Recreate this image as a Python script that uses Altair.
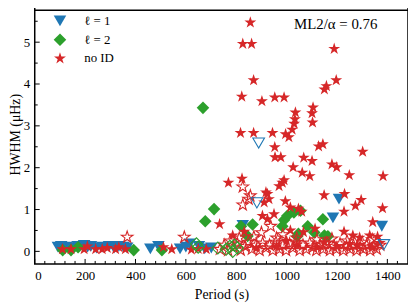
import altair as alt
import pandas as pd

# ---------------- data ----------------
cats = ["ℓ = 1", "ℓ = 2", "no ID"]
colors = ["#1f77b4", "#2ca02c", "#d62728"]
STAR = ("M0,-1L0.2245,-0.309L0.9511,-0.309L0.3633,0.118L0.5878,0.809L0,0.382"
        "L-0.5878,0.809L-0.3633,0.118L-0.9511,-0.309L-0.2245,-0.309Z")
shapes = ["triangle-down", "diamond", STAR]

l1_filled_period = [92, 105, 125, 144, 170, 196, 210, 223, 245, 268, 295, 315, 334, 352, 367,
                    459, 491, 577, 600, 616, 652, 675, 701, 826, 1184, 1208, 1378]
l1_filled_hwhm = [0.10, 0.12, 0.10, 0.08, 0.12, 0.14, 0.10, 0.12, 0.08, 0.10, 0.12, 0.08, 0.12, 0.10, 0.08,
                  0.06, 0.12, 0.06, 0.10, 0.18, 0.12, 0.06, 0.08, 0.62, 0.80, 1.25, 0.60]

l1_open_period = [882, 889, 1386]
l1_open_hwhm = [1.16, 2.59, 0.16]

l2_filled_period = [111, 144, 172, 393, 505, 668, 677, 712, 819, 845, 865, 983, 990, 1003, 1029,
                    1042, 1047, 1055, 1084, 1110, 1144, 1150, 1164]
l2_filled_hwhm = [0.03, 0.03, 0.10, 0.03, 0.03, 3.43, 0.72, 1.01, 0.60, 0.37, 0.64, 0.60, 0.75, 0.85, 0.93,
                  0.36, 0.42, 0.97, 0.60, 0.45, 0.77, 0.38, 0.36]

l2_open_period = [642, 649, 727, 760, 775, 786, 793, 805]
l2_open_hwhm = [0.18, 0.10, 0.08, 0.05, 0.12, 0.00, 0.15, 0.08]

noid_filled_period = [110, 144, 196, 209, 242, 268, 288, 321, 334, 360, 511, 544, 622, 649, 681,
                      734, 769, 786, 817, 822, 823, 826, 832, 856, 861, 869, 869, 880, 902, 904,
                      911, 918, 924, 924, 930, 944, 950, 953, 953, 954, 960, 970, 977, 983, 990,
                      990, 995, 996, 1000, 1009, 1015, 1015, 1022, 1026, 1030, 1033, 1035, 1040, 1047, 1060,
                      1062, 1067, 1068, 1092, 1101, 1101, 1103, 1105, 1113, 1120, 1127, 1144, 1149, 1150, 1150,
                      1158, 1180, 1189, 1197, 1199, 1200, 1228, 1228, 1230, 1249, 1250, 1263, 1273, 1280, 1290,
                      1296, 1302, 1330, 1340, 1342, 1361, 1370, 1381, 1383]
noid_filled_hwhm = [0.05, 0.05, 0.05, 0.12, 0.05, 0.05, 0.08, 0.05, 0.10, 0.05, 0.10, 0.05, 0.04, 0.06, 0.05,
                    0.65, 1.64, 0.38, 2.83, 3.70, 1.74, 4.96, 0.47, 5.47, 4.96, 4.09, 2.83, 0.08, 3.59, 0.85,
                    1.17, 1.41, 1.37, 0.77, 1.25, 2.83, 0.89, 3.68, 2.49, 2.25, 0.12, 1.56, 2.25, 1.64, 3.68,
                    1.70, 1.20, 2.80, 0.25, 2.73, 1.05, 0.50, 2.91, 2.01, 3.05, 3.16, 3.32, 0.15, 1.02, 0.95,
                    1.88, 0.46, 2.24, 1.80, 3.30, 2.16, 3.08, 3.44, 0.54, 0.10, 2.51, 2.56, 1.34, 3.87, 0.22,
                    3.95, 2.08, 4.84, 4.09, 2.01, 0.12, 0.95, 0.47, 1.37, 1.82, 0.18, 0.38, 1.09, 0.15, 0.33,
                    1.23, 2.38, 0.38, 0.10, 0.70, 0.35, 0.20, 1.03, 1.80]

noid_open_period = [367, 594, 826, 856, 826, 849,
                    735, 752, 768, 776, 790, 805, 812, 818, 835, 848, 862, 870, 878, 893,
                    900, 905, 918, 932, 937, 945, 958, 960, 972, 985, 985, 998, 1012, 1025, 1038,
                    1040, 1052, 1065, 1078, 1092, 1105, 1118, 1120, 1132, 1145, 1158, 1172, 1180, 1185, 1198,
                    1212, 1225, 1238, 1240, 1252, 1265, 1278, 1292, 1300, 1305, 1318, 1332, 1340, 1345, 1358, 1372]
noid_open_hwhm = [0.34, 0.34, 1.54, 1.33, 1.11, 1.25,
                  0.05, 0.15, 0.02, 0.25, 0.10, 0.18, 0.32, 0.03, 0.12, 0.22, 0.05, 0.35, 0.15, 0.02,
                  0.45, 0.20, 0.08, 0.15, 0.60, 0.02, 0.22, 0.32, 0.05, 0.40, 0.15, 0.02, 0.18, 0.08, 0.22,
                  0.32, 0.02, 0.15, 0.05, 0.20, 0.10, 0.02, 0.28, 0.15, 0.05, 0.20, 0.02, 0.30, 0.12, 0.05,
                  0.18, 0.02, 0.12, 0.25, 0.05, 0.15, 0.02, 0.10, 0.22, 0.05, 0.15, 0.02, 0.28, 0.12, 0.05, 0.15]

x_major = [0, 200, 400, 600, 800, 1000, 1200, 1400]
x_minor = [v for v in range(40, 1480, 40) if v % 200 != 0]
y_major = [0, 1, 2, 3, 4, 5]
y_minor = [0.5, 1.5, 2.5, 3.5, 4.5, 5.5]

annotation = "ML2/α = 0.76"

# ---------------- tables ----------------
filled = pd.concat([
    pd.DataFrame({"P": l1_filled_period, "H": l1_filled_hwhm, "cat": cats[0]}),
    pd.DataFrame({"P": l2_filled_period, "H": l2_filled_hwhm, "cat": cats[1]}),
    pd.DataFrame({"P": noid_filled_period, "H": noid_filled_hwhm, "cat": cats[2]}),
], ignore_index=True)
filled["order"] = range(len(filled))

FONT = "Liberation Serif"
W, H = 377, 262

xscale = alt.Scale(domain=[0, 1482], nice=False, zero=False)
yscale = alt.Scale(domain=[-0.3, 5.9], nice=False, zero=False)

xaxis = alt.Axis(values=x_major, ticks=False, domain=False, grid=False, labelFont=FONT,
                 labelFontSize=13, labelColor="black", labelPadding=6, title="Period (s)",
                 titleFont=FONT, titleFontSize=14, titleFontWeight="normal", titleColor="black",
                 titlePadding=5, format="d")
yaxis = alt.Axis(values=y_major, ticks=False, domain=False, grid=False, labelFont=FONT,
                 labelFontSize=13, labelColor="black", labelPadding=5, title="HWHM (μHz)",
                 titleFont=FONT, titleFontSize=14, titleFontWeight="normal", titleColor="black",
                 titlePadding=1, format="d")

legend = alt.Legend(orient="none", legendX=19, legendY=10, title=None, labelFont=FONT,
                    labelFontSize=13, labelColor="black", symbolSize=160, rowPadding=5,
                    labelOffset=18, padding=0, symbolStrokeWidth=0, symbolOpacity=1)

base_filled = alt.Chart(filled).mark_point(filled=True, size=160, opacity=1, strokeWidth=0).encode(
    x=alt.X("P:Q", scale=xscale, axis=xaxis),
    y=alt.Y("H:Q", scale=yscale, axis=yaxis),
    color=alt.Color("cat:N", scale=alt.Scale(domain=cats, range=colors), legend=legend),
    shape=alt.Shape("cat:N", scale=alt.Scale(domain=cats, range=shapes), legend=legend),
    order=alt.Order("order:Q"),
)


def open_layer(P, Hs, shape, color, size):
    df = pd.DataFrame({"P": P, "H": Hs})
    return alt.Chart(df).mark_point(shape=shape, filled=False, color=color, size=size,
                                    strokeWidth=1.1, opacity=1).encode(
        x=alt.X("P:Q", scale=xscale, axis=xaxis),
        y=alt.Y("H:Q", scale=yscale, axis=yaxis),
    )


open_red = open_layer(noid_open_period, noid_open_hwhm, STAR, colors[2], 150)
open_green = open_layer(l2_open_period, l2_open_hwhm, "diamond", colors[1], 150)
open_blue = open_layer(l1_open_period, l1_open_hwhm, "triangle-down", colors[0], 140)


def xticks(vals, length):
    return alt.Chart(pd.DataFrame({"P": vals})).mark_rule(color="black", strokeWidth=1).encode(
        x=alt.X("P:Q", scale=xscale, axis=xaxis), y=alt.value(H), y2=alt.value(H - length))


def yticks(vals, length):
    return alt.Chart(pd.DataFrame({"H": vals})).mark_rule(color="black", strokeWidth=1).encode(
        y=alt.Y("H:Q", scale=yscale, axis=yaxis), x=alt.value(0), x2=alt.value(length))


text = alt.Chart(pd.DataFrame({"t": [annotation]})).mark_text(
    font=FONT, fontSize=15, align="center", baseline="middle", color="black").encode(
    x=alt.value(304), y=alt.value(20), text="t:N")

# top border, drawn just inside the visible page area
top_rule = alt.Chart(pd.DataFrame({"t": [0]})).mark_rule(color="black", strokeWidth=1.5).encode(
    x=alt.value(0), x2=alt.value(W), y=alt.value(5.75))

chart = alt.layer(
    base_filled, open_red, open_green, open_blue,
    xticks(x_major, 5), xticks(x_minor, 3), yticks(y_major, 5), yticks(y_minor, 3),
    text, top_rule,
).properties(
    width=W, height=H,
    padding={"left": 27, "top": -5, "right": 0, "bottom": 40},
    autosize=alt.AutoSizeParams(type="none"),
    background="white",
).configure_view(stroke="black", strokeWidth=1.5).configure_legend(labelFont=FONT)

chart.save("out.html", embed_options={"renderer": "svg", "actions": False})
